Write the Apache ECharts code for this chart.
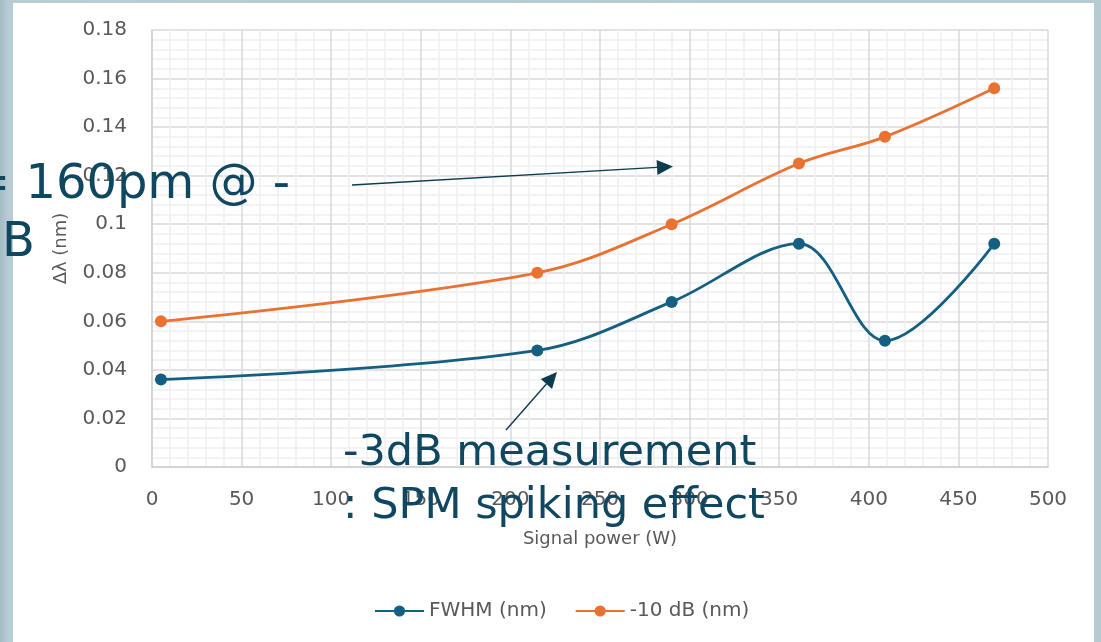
<!DOCTYPE html>
<html>
<head>
<meta charset="utf-8">
<script src="https://cdn.jsdelivr.net/npm/echarts@6/dist/echarts.min.js"></script>
<style>
  html, body { margin: 0; padding: 0; }
  body { width: 1101px; height: 642px; overflow: hidden; position: relative;
         background: linear-gradient(90deg, #a3bbc4 0px, #b9ccd4 8px, #b6cad2 100%); }
  #panel { position: absolute; left: 13px; top: 3px; width: 1081px; height: 639px; background: #ffffff; }
  #chart { position: absolute; left: 0; top: 0; width: 1101px; height: 642px; }
</style>
</head>
<body>
<div id="panel"></div>
<div id="chart"></div>
<script>
// ---- data ----
const signalPower = [5, 215, 290, 361, 409, 470];          // W
const fwhm        = [0.036, 0.048, 0.068, 0.092, 0.052, 0.092]; // nm
const minus10dB   = [0.060, 0.080, 0.100, 0.125, 0.136, 0.156]; // nm
const seriesNames = ['FWHM (nm)', '-10 dB (nm)'];
const xTicks = { min: 0, max: 500, interval: 50 };
const yTicks = { min: 0, max: 0.18, interval: 0.02 };
const note1 = ['= 160pm @ -', 'B'];
const note2 = ['-3dB measurement', ': SPM spiking effect'];

const BLUE = '#156082', ORANGE = '#e97132', INK = '#0f4761', GRAY = '#595959';
const FONT = '"DejaVu Sans", Verdana, sans-serif';

function pairs(xs, ys) { return xs.map((x, i) => [x, ys[i]]); }

function arrow(x1, y1, x2, y2, len, w) {
  const a = Math.atan2(y2 - y1, x2 - x1);
  const bx = x2 - len * Math.cos(a), by = y2 - len * Math.sin(a);
  const px = -Math.sin(a) * w / 2, py = Math.cos(a) * w / 2;
  return [
    { type: 'line', z: 100, shape: { x1: x1, y1: y1, x2: bx, y2: by },
      style: { stroke: '#0d3b50', lineWidth: 1.4 } },
    { type: 'polygon', z: 100, shape: { points: [[x2, y2], [bx + px, by + py], [bx - px, by - py]] },
      style: { fill: '#0d3b50' } }
  ];
}

function textEl(str, x, y, size) {
  return { type: 'text', z: 100, x: x, y: y,
    style: { text: str, fill: INK, font: size + 'px ' + FONT, textAlign: 'left', textVerticalAlign: 'middle' } };
}

const chart = echarts.init(document.getElementById('chart'), null, { renderer: 'canvas' });
chart.setOption({
  backgroundColor: 'transparent',
  animation: false,
  textStyle: { fontFamily: FONT },
  grid: { left: 152, right: 53, top: 30, bottom: 175 },
  legend: {
    left: 369, top: 596,
    itemWidth: 49, itemHeight: 14, itemGap: 28,
    textStyle: { color: GRAY, fontSize: 20, fontFamily: FONT },
    data: seriesNames
  },
  xAxis: {
    type: 'value', min: xTicks.min, max: xTicks.max, interval: xTicks.interval,
    name: 'Signal power (W)', nameLocation: 'middle', nameGap: 63,
    nameTextStyle: { color: GRAY, fontSize: 18, fontFamily: FONT },
    axisLine: { show: true, lineStyle: { color: '#d0d0d0', width: 1.5 } },
    axisTick: { show: false },
    axisLabel: { color: GRAY, fontSize: 20, margin: 23, fontFamily: FONT },
    splitLine: { show: true, lineStyle: { color: '#d9d9d9', width: 1.5 } },
    minorTick: { show: false, splitNumber: 5 },
    minorSplitLine: { show: true, lineStyle: { color: '#efefef', width: 1.5 } }
  },
  yAxis: {
    type: 'value', min: yTicks.min, max: yTicks.max, interval: yTicks.interval,
    name: 'Δλ (nm)', nameLocation: 'middle', nameGap: 82,
    nameTextStyle: { color: GRAY, fontSize: 18, fontFamily: FONT },
    axisLine: { show: true, lineStyle: { color: '#d0d0d0', width: 1.5 } },
    axisTick: { show: false },
    axisLabel: { color: GRAY, fontSize: 20, margin: 25, fontFamily: FONT },
    splitLine: { show: true, lineStyle: { color: '#d9d9d9', width: 1.5 } },
    minorTick: { show: false, splitNumber: 5 },
    minorSplitLine: { show: true, lineStyle: { color: '#efefef', width: 1.5 } }
  },
  series: [
    { name: seriesNames[0], type: 'line', smooth: 0.35, data: pairs(signalPower, fwhm),
      symbol: 'circle', symbolSize: 12, color: BLUE,
      lineStyle: { color: BLUE, width: 2.8 }, itemStyle: { color: BLUE } },
    { name: seriesNames[1], type: 'line', smooth: 0.35, data: pairs(signalPower, minus10dB),
      symbol: 'circle', symbolSize: 12, color: ORANGE,
      lineStyle: { color: ORANGE, width: 2.8 }, itemStyle: { color: ORANGE } }
  ],
  graphic: [].concat(
    arrow(352, 185, 673, 166.5, 16, 15),
    arrow(506, 430, 557, 372, 16, 15),
    [ textEl(note1[0], -30, 186, 48),
      textEl(note1[1], 2, 244, 48),
      textEl(note2[0], 343, 454, 43),
      textEl(note2[1], 343, 507, 43) ]
  )
});
</script>
</body>
</html>
